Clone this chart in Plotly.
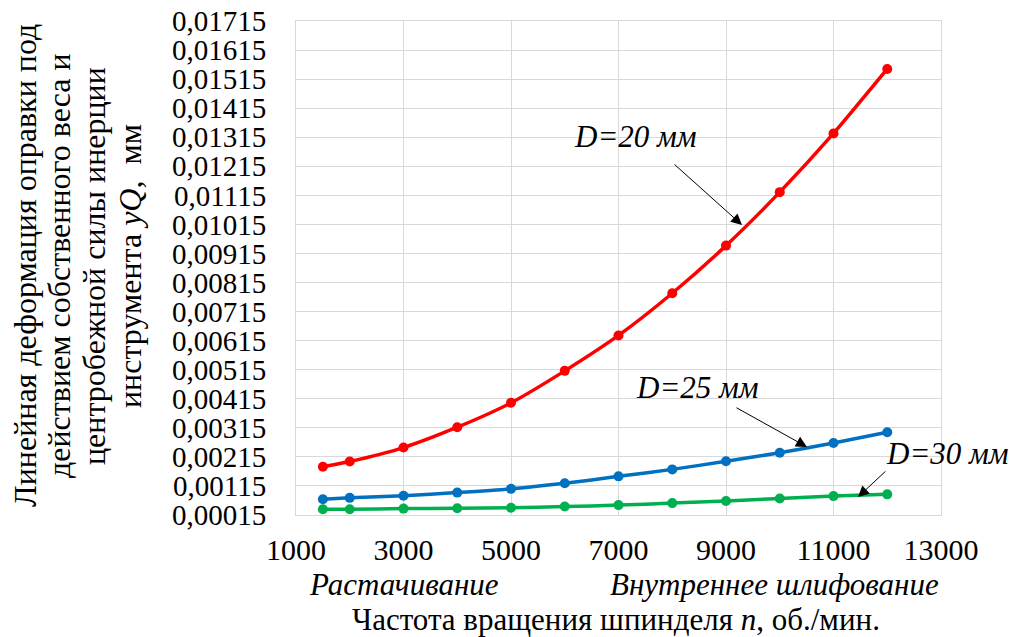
import plotly.graph_objects as go

# ---- data ----
speed_n = [1500, 2000, 3000, 4000, 5000, 6000, 7000, 8000, 9000, 10000, 11000, 12000]
y_d20 = [0.00181, 0.00199, 0.00247, 0.00317, 0.00401, 0.00511, 0.00633, 0.00778, 0.00942, 0.01126, 0.01328, 0.01550]
y_d25 = [0.00069, 0.00074, 0.00081, 0.00092, 0.00105, 0.00124, 0.00148, 0.00172, 0.00200, 0.00229, 0.00263, 0.00300]
y_d30 = [0.00035, 0.00035, 0.00037, 0.00038, 0.00040, 0.00044, 0.00049, 0.00056, 0.00063, 0.00072, 0.00080, 0.00086]

series_names = ["D=20 мм", "D=25 мм", "D=30 мм"]
x_tick_vals = [1000, 3000, 5000, 7000, 9000, 11000, 13000]
x_tick_text = ["1000", "3000", "5000", "7000", "9000", "11000", "13000"]
y_tick_vals = [0.00015, 0.00115, 0.00215, 0.00315, 0.00415, 0.00515, 0.00615, 0.00715, 0.00815,
               0.00915, 0.01015, 0.01115, 0.01215, 0.01315, 0.01415, 0.01515, 0.01615, 0.01715]
y_tick_text = ["0,00015", "0,00115", "0,00215", "0,00315", "0,00415", "0,00515", "0,00615", "0,00715", "0,00815",
               "0,00915", "0,01015", "0,01115", "0,01215", "0,01315", "0,01415", "0,01515", "0,01615", "0,01715"]
y_title_lines = ["Линейная деформация оправки под", "действием собственного веса и",
                 "центробежной силы инерции", "инструмента <i>yQ</i>,  мм"]

FONT = "Liberation Serif"
colors = ["#FF0000", "#0070C0", "#00B050"]

fig = go.Figure()
for name, ys, c in zip(series_names, [y_d20, y_d25, y_d30], colors):
    fig.add_trace(go.Scatter(
        x=speed_n, y=ys, name=name, mode="lines+markers",
        line=dict(color=c, width=3.5, shape="spline", smoothing=0.6),
        marker=dict(color=c, size=10),
        showlegend=False,
    ))

def tfont(size):
    return dict(family=FONT, size=size, color="#000000")

annotations = []
labels = [
    dict(text="<i>D=20 мм</i>", x=7307, y=0.01316, xanchor="center",
         tail=(8014, 0.01226), head=(9298, 0.01013)),
    dict(text="<i>D=25 мм</i>", x=8470, y=0.00455, xanchor="center",
         tail=(9167, 0.00387), head=(10507, 0.00249)),
    dict(text="<i>D=30 мм</i>", x=11940, y=0.00225, xanchor="left",
         tail=(11995, 0.00170), head=(11456, 0.00077)),
]
for lb in labels:
    annotations.append(dict(text=lb["text"], x=lb["x"], y=lb["y"], xref="x", yref="y",
                            xanchor=lb["xanchor"], yanchor="middle", showarrow=False,
                            font=tfont(31)))
    annotations.append(dict(text="", x=lb["head"][0], y=lb["head"][1], xref="x", yref="y",
                            ax=lb["tail"][0], ay=lb["tail"][1], axref="x", ayref="y",
                            showarrow=True, arrowhead=2, arrowsize=2.2, arrowwidth=1,
                            arrowcolor="#000000"))

def py(pix):
    return (515 - pix) / 494.0

def px(pix):
    return (pix - 296) / 645.0

annotations.append(dict(text="<i>Растачивание</i>", x=px(404), y=py(584), xref="paper",
                        yref="paper", xanchor="center", yanchor="middle", showarrow=False,
                        font=tfont(31)))
annotations.append(dict(text="<i>Внутреннее шлифование</i>", x=px(774), y=py(584), xref="paper",
                        yref="paper", xanchor="center", yanchor="middle", showarrow=False,
                        font=tfont(31)))
annotations.append(dict(text="Частота вращения шпинделя <i>n</i>, об./мин.",
                        x=px(616), y=py(619), xref="paper", yref="paper", xanchor="center",
                        yanchor="middle", showarrow=False, font=tfont(31)))
for line, xc in zip(y_title_lines, [25, 59, 94, 130]):
    annotations.append(dict(text=line, x=px(xc), y=py(266), xref="paper", yref="paper",
                            xanchor="center", yanchor="middle", textangle=-90, showarrow=False,
                            font=tfont(32)))

fig.update_layout(
    width=1009, height=637,
    margin=dict(l=296, r=68, t=21, b=122, pad=0),
    paper_bgcolor="#FFFFFF", plot_bgcolor="#FFFFFF",
    font=tfont(30),
    annotations=annotations,
)
fig.update_xaxes(range=[1000, 13000], tickvals=x_tick_vals, ticktext=x_tick_text, showgrid=True,
                 gridcolor="#D9D9D9", gridwidth=1, showline=True, mirror=True, linecolor="#D9D9D9",
                 linewidth=1, zeroline=False, ticks="outside", ticklen=8,
                 tickcolor="rgba(0,0,0,0)", tickfont=tfont(30), automargin=False)
fig.update_yaxes(range=[0.00015, 0.01715], tickvals=y_tick_vals, ticktext=y_tick_text,
                 showgrid=True, gridcolor="#D9D9D9", gridwidth=1, showline=True, mirror=True,
                 linecolor="#D9D9D9", linewidth=1, zeroline=False, ticks="outside", ticklen=23,
                 tickcolor="rgba(0,0,0,0)", tickfont=tfont(29), automargin=False)

fig.write_html("out.html", config={"displayModeBar": False},
               post_script="document.body.style.margin='0';")
